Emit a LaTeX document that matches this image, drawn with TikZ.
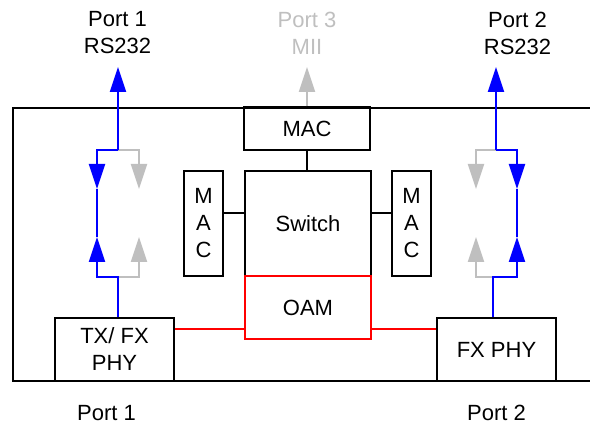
\documentclass[tikz,border=0pt]{standalone}
\usepackage{fontspec}
\setmainfont{Liberation Sans}
\usepackage{tikz}
\usetikzlibrary{arrows.meta,positioning}

\begin{document}
\begin{tikzpicture}[x=1pt,y=-1pt,line width=1.3pt,
  every node/.style={font=\fontsize{22}{27}\selectfont,inner sep=0pt},
  box/.style={draw,align=center,minimum width=126pt,minimum height=43pt},
  vbox/.style={draw,align=center,minimum width=39pt,minimum height=105pt},
  phy/.style={draw,align=center,minimum width=119pt,minimum height=63pt},
  lbl/.style={align=center},
  blu/.style={draw=blue,line width=2pt},
  gry/.style={draw=black!25,line width=2pt},
  tip/.style={-{Triangle[width=16pt,length=25pt]}}]
  \useasboundingbox (0,0) rectangle (590,425);
  \draw (590,108) -- (13,108) -- (13,381) -- (590,381);
  % blocks
  \node[box] (mac) at (307,128.5) {MAC};
  \node[box,minimum height=105pt] (sw) at (308,223.5) {Switch};
  \node[box,draw=red,minimum height=63pt] (oam) at (308,307.5) {OAM};
  \node[vbox] (lmac) at (203.5,223.5) {M\\A\\C};
  \node[vbox] (rmac) at (411.5,223.5) {M\\A\\C};
  \node[phy] (lphy) at (114.5,349.5) {TX/ FX\\PHY};
  \node[phy] (rphy) at (496.5,349.5) {FX PHY};
  % port labels
  \node[lbl,anchor=north] (p1) at (117.5,11) {Port 1\\RS232};
  \node[lbl,anchor=north,text=black!25] (p3) at (307,11) {Port 3\\MII};
  \node[lbl,anchor=north] (p2) at (517.5,11) {Port 2\\RS232};
  \node[anchor=base] (b1) at (106.5,420) {Port 1};
  \node[anchor=base] (b2) at (496.5,420) {Port 2};
  \coordinate (t1) at (118,67);
  \coordinate (t2) at (496,67);
  \coordinate (lj) at (118,277);
  \coordinate (lk) at (118,150);
  \coordinate (rj) at (493,277);
  \coordinate (rk) at (496,150);
  % links
  \draw (mac.south) -- (mac.south |- sw.north);
  \draw (lmac.east |- 0,213) -- (sw.west |- 0,213);
  \draw (rmac.west |- 0,213) -- (sw.east |- 0,213);
  \draw[red] (lphy.east |- 0,329) -- (oam.west |- 0,329);
  \draw[red] (rphy.west |- 0,329) -- (oam.east |- 0,329);
  \draw[gry,tip] (mac.north) -- (mac.north |- t1);
  % left port
  \draw[gry,tip] (lj) -| (139,237);
  \draw[gry,tip] (lk) -| (139,189);
  \draw[blu,tip] (lphy.north -| lj) -- (lj) -| (97,237);
  \draw[blu] (97,237) -- (97,189);
  \draw[blu,tip] (lk) -| (97,189);
  \draw[blu,tip] (lk) -- (t1);
  % right port
  \draw[gry,tip] (rj) -| (476,237);
  \draw[gry,tip] (rk) -| (476,189);
  \draw[blu,tip] (rphy.north -| rj) -- (rj) -| (517,237);
  \draw[blu] (517,237) -- (517,189);
  \draw[blu,tip] (rk) -| (517,189);
  \draw[blu,tip] (rk) -- (t2);
\end{tikzpicture}
\end{document}
